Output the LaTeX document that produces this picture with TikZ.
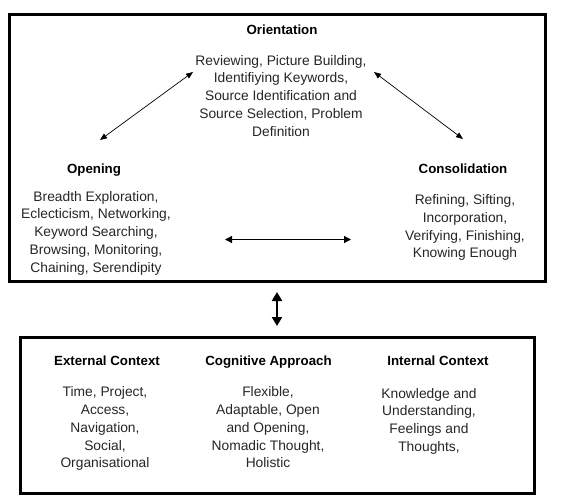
\documentclass[tikz,border=0pt]{standalone}
\usepackage{fontspec}
\setmainfont{Liberation Sans}
\usetikzlibrary{arrows.meta}
\tikzset{
  head/.style={font=\bfseries\fontsize{13.3}{17.7}\selectfont, inner sep=0pt, anchor=base},
  body/.style={font=\fontsize{13.8}{17.7}\selectfont, inner sep=0pt, anchor=north, align=center, text=black!85},
  frame/.style={line width=3pt},
  thinarrow/.style={line width=0.7pt, {Triangle[length=7pt,width=5.5pt]}-{Triangle[length=7pt,width=5.5pt]}},
  midarrow/.style={line width=1.2pt, {Triangle[length=7pt,width=7pt]}-{Triangle[length=7pt,width=7pt]}},
  bigarrow/.style={line width=2pt, {Triangle[length=9pt,width=10pt]}-{Triangle[length=9pt,width=10pt]}}
}
\begin{document}
\begin{tikzpicture}[x=1pt,y=-1pt]
\useasboundingbox[fill=white] (0,0) rectangle (563,504);
% frames
\coordinate (topA) at (9,14); \coordinate (topB) at (545,281);
\coordinate (botA) at (20.5,337.5); \coordinate (botB) at (534.5,493);
\draw[frame] (topA) rectangle (topB);
\draw[frame] (botA) rectangle (botB);
% top box
\node[head] (orh) at (282,34) {Orientation};
\node[body] (ort) at (281,55) {Reviewing, Picture Building,\\Identifiying Keywords,\\Source Identification and\\Source Selection, Problem\\Definition};
\node[head] (oph) at (94,173) {Opening};
\node[body] (opt) at (96,191) {Breadth Exploration,\\Eclecticism, Networking,\\Keyword Searching,\\Browsing, Monitoring,\\Chaining, Serendipity};
\node[head] (coh) at (463,173) {Consolidation};
\node[body] (cot) at (465,194.5) {Refining, Sifting,\\Incorporation,\\Verifying, Finishing,\\Knowing Enough};
% arrows in top box
\coordinate (l1) at (100,140); \coordinate (l2) at (193,72);
\coordinate (r1) at (374,72); \coordinate (r2) at (463,139);
\coordinate (h1) at (225,239.5); \coordinate (h2) at (351,239.5);
\draw[thinarrow] (l1) -- (l2);
\draw[thinarrow] (r1) -- (r2);
\draw[midarrow] (h1) -- (h2);
% vertical arrow
\coordinate (v1) at (277,292); \coordinate (v2) at (277,326);
\draw[bigarrow] (v1) -- (v2);
% bottom box
\node[head] (exh) at (107,365) {External Context};
\node[body] (ext) at (105,386.7) {Time, Project,\\Access,\\Navigation,\\Social,\\Organisational};
\node[head] (cgh) at (268.5,365) {Cognitive Approach};
\node[body] (cgt) at (268,386.7) {Flexible,\\Adaptable, Open\\and Opening,\\Nomadic Thought,\\Holistic};
\node[head] (inh) at (438,365) {Internal Context};
\node[body] (int) at (429,388) {Knowledge and\\Understanding,\\Feelings and\\Thoughts,};
\end{tikzpicture}
\end{document}
